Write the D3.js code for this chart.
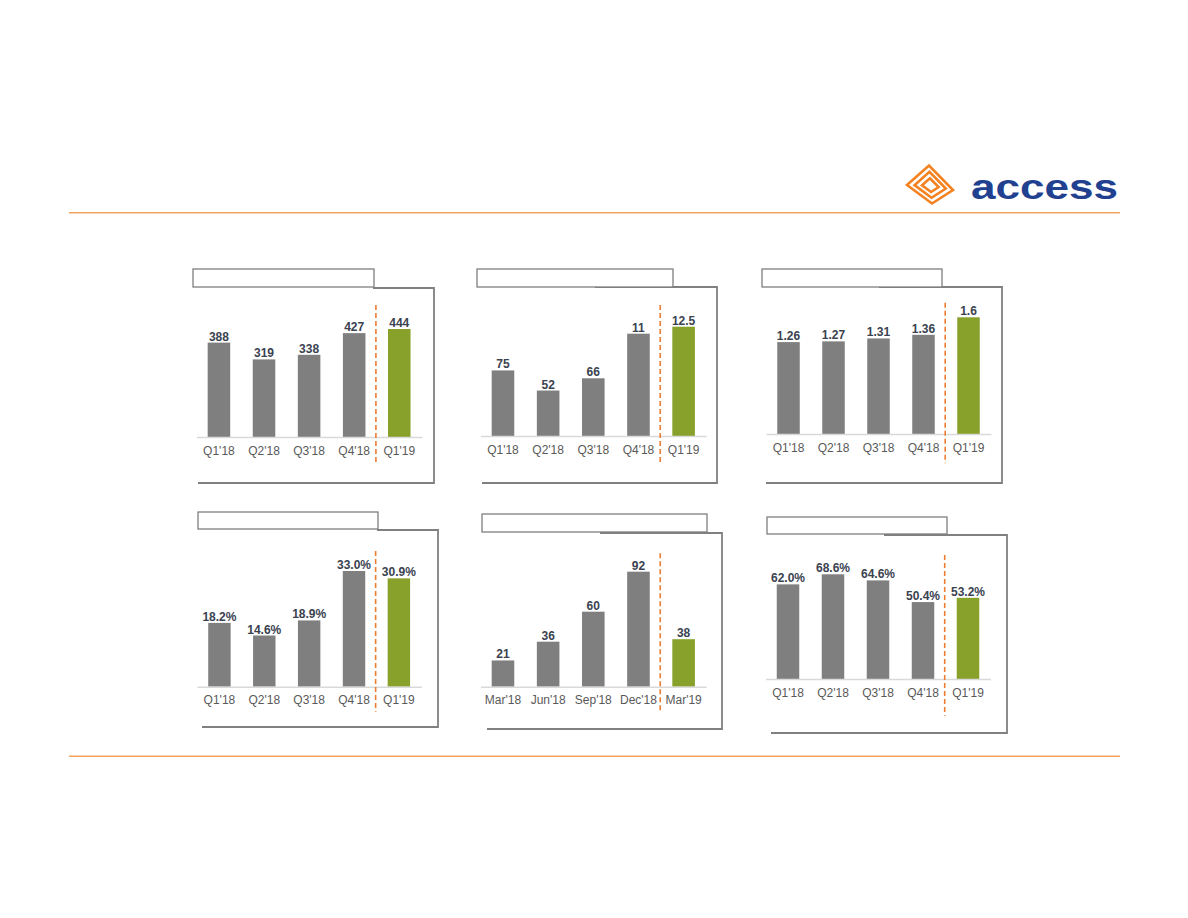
<!DOCTYPE html>
<html>
<head>
<meta charset="utf-8">
<script src="https://cdn.jsdelivr.net/npm/d3@7/dist/d3.min.js"></script>
<style>
  html, body { margin: 0; padding: 0; background: #ffffff; }
  svg { display: block; }
  text { font-family: "Liberation Sans", Arial, sans-serif; }
</style>
</head>
<body>
<script>
// ---------------- DATA ----------------
const quarters = ["Q1'18", "Q2'18", "Q3'18", "Q4'18", "Q1'19"];
const months = ["Mar'18", "Jun'18", "Sep'18", "Dec'18", "Mar'19"];

const chart1Values = [388, 319, 338, 427, 444];
const chart1Labels = ["388", "319", "338", "427", "444"];

const chart2Values = [75, 52, 66, 117, 125];
const chart2Labels = ["75", "52", "66", "11", "12.5"];

const chart3Values = [1.26, 1.27, 1.31, 1.36, 1.6];
const chart3Labels = ["1.26", "1.27", "1.31", "1.36", "1.6"];

const chart4Values = [18.2, 14.6, 18.9, 33.0, 30.9];
const chart4Labels = ["18.2%", "14.6%", "18.9%", "33.0%", "30.9%"];

const chart5Values = [21, 36, 60, 92, 38];
const chart5Labels = ["21", "36", "60", "92", "38"];

const chart6Values = [62.0, 68.6, 64.6, 50.4, 53.2];
const chart6Labels = ["62.0%", "68.6%", "64.6%", "50.4%", "53.2%"];

// ---------------- LAYOUT ----------------
const W = 1188, H = 918;
const GREY = "#7f7f7f", GREEN = "#87a12b", ORANGE = "#ed7d31";
const VALUE_COLOR = "#3a4250", CAT_COLOR = "#595959";

const panels = [
  { cats: quarters, values: chart1Values, labels: chart1Labels,
    x0: 196.4, x1: 421.8, base: 437, top: 329,
    box: [193, 269, 374, 287], frameTop: 288, frameTopStart: 373, frameRight: 434, frameBottom: 483, frameLeft: 198,
    dash: [305, 465] },
  { cats: quarters, values: chart2Values, labels: chart2Labels,
    x0: 480.4, x1: 706.2, base: 436, top: 326.7,
    box: [477, 269, 673, 287], frameTop: 287, frameTopStart: 595, frameRight: 717, frameBottom: 483, frameLeft: 482,
    dash: [305, 465] },
  { cats: quarters, values: chart3Values, labels: chart3Labels,
    x0: 766, x1: 991, base: 434, top: 317.3,
    box: [762, 269, 942, 287], frameTop: 287, frameTopStart: 879, frameRight: 1002, frameBottom: 483, frameLeft: 766,
    dash: [302.7, 463.3] },
  { cats: quarters, values: chart4Values, labels: chart4Labels,
    x0: 197, x1: 421.3, base: 686.7, top: 571,
    box: [198, 512, 378, 529], frameTop: 530, frameTopStart: 377, frameRight: 438, frameBottom: 727, frameLeft: 202,
    dash: [551, 711.7] },
  { cats: months, values: chart5Values, labels: chart5Labels,
    x0: 480.4, x1: 706.2, base: 686.7, top: 571.7,
    box: [482, 514, 707, 532], frameTop: 533, frameTopStart: 600, frameRight: 722, frameBottom: 729, frameLeft: 487,
    dash: [553.3, 713.3] },
  { cats: quarters, values: chart6Values, labels: chart6Labels,
    x0: 765.5, x1: 990.5, base: 679, top: 574.3,
    box: [767, 517, 947, 534], frameTop: 535, frameTopStart: 884, frameRight: 1007, frameBottom: 733, frameLeft: 771,
    dash: [555, 715.7] }
];

const svg = d3.select("body").append("svg")
  .attr("width", W).attr("height", H)
  .attr("viewBox", `0 0 ${W} ${H}`);

svg.append("rect").attr("width", W).attr("height", H).attr("fill", "#ffffff");

// ---------------- HEADER / FOOTER RULES ----------------
svg.append("line").attr("x1", 69).attr("x2", 1120).attr("y1", 212.7).attr("y2", 212.7)
  .attr("stroke", "#f4a461").attr("stroke-width", 1.5);
svg.append("line").attr("x1", 69).attr("x2", 1120).attr("y1", 756.3).attr("y2", 756.3)
  .attr("stroke", "#f4a461").attr("stroke-width", 1.5);

// ---------------- LOGO ----------------
const logo = svg.append("g");
const cx = 930.5, cy = 185.5;
const outer = [[907, 185], [929, 165.5], [953, 190], [932, 203.5]];
[1, 0.68, 0.36].forEach(s => {
  const pts = outer.map(p => [cx + (p[0] - cx) * s, cy + (p[1] - cy) * s]);
  logo.append("path")
    .attr("d", d3.line()(pts) + "Z")
    .attr("fill", "none")
    .attr("stroke", "#f58220")
    .attr("stroke-width", 2.6)
    .attr("stroke-linejoin", "miter");
});
logo.append("text")
  .attr("x", 971).attr("y", 198.5)
  .attr("font-size", 35).attr("font-weight", "bold")
  .attr("textLength", 147).attr("lengthAdjust", "spacingAndGlyphs")
  .attr("fill", "#21408f")
  .style("font-family", "'Liberation Sans', Arial, sans-serif")
  .text("access");

// ---------------- PANELS ----------------
panels.forEach(p => {
  const g = svg.append("g");

  // frame (right, bottom, partial top)
  g.append("path")
    .attr("d", `M${p.frameTopStart},${p.frameTop} L${p.frameRight},${p.frameTop} L${p.frameRight},${p.frameBottom} L${p.frameLeft},${p.frameBottom}`)
    .attr("fill", "none").attr("stroke", "#808080").attr("stroke-width", 1.8);

  // title box
  g.append("rect")
    .attr("x", p.box[0]).attr("y", p.box[1])
    .attr("width", p.box[2] - p.box[0]).attr("height", p.box[3] - p.box[1])
    .attr("fill", "#ffffff").attr("stroke", "#7f7f7f").attr("stroke-width", 1.3);

  const x = d3.scaleBand().domain(p.cats).range([p.x0, p.x1])
    .paddingInner(0.5).paddingOuter(0.25);
  const y = d3.scaleLinear().domain([0, d3.max(p.values)]).range([p.base, p.top]);

  const data = p.cats.map((c, i) => ({ cat: c, v: p.values[i], label: p.labels[i], last: i === p.cats.length - 1 }));

  // bars
  g.selectAll("rect.bar").data(data).enter().append("rect")
    .attr("class", "bar")
    .attr("x", d => x(d.cat))
    .attr("y", d => y(d.v))
    .attr("width", x.bandwidth())
    .attr("height", d => y(0) - y(d.v))
    .attr("fill", d => d.last ? GREEN : GREY);

  // axis
  const axis = g.append("g")
    .attr("transform", `translate(0,${p.base})`)
    .call(d3.axisBottom(x).tickSize(0).tickPadding(9));
  axis.select(".domain").attr("stroke", "#d9d9d9").attr("stroke-width", 1.5);
  axis.selectAll("text")
    .attr("fill", CAT_COLOR)
    .attr("font-size", 12)
    .style("font-family", "'Liberation Sans', Arial, sans-serif");

  // value labels
  g.selectAll("text.val").data(data).enter().append("text")
    .attr("class", "val")
    .attr("x", d => x(d.cat) + x.bandwidth() / 2)
    .attr("y", d => y(d.v) - 2)
    .attr("text-anchor", "middle")
    .attr("font-size", 12).attr("font-weight", "bold")
    .attr("fill", VALUE_COLOR)
    .text(d => d.label);

  // dashed separator
  const lastCat = p.cats[p.cats.length - 1];
  const dx = x(lastCat) - x.step() * 0.25 - 0.8;
  g.append("line")
    .attr("x1", dx).attr("x2", dx)
    .attr("y1", p.dash[0]).attr("y2", p.dash[1])
    .attr("stroke", ORANGE).attr("stroke-width", 1.6)
    .attr("stroke-dasharray", "5,3");
});
</script>
</body>
</html>
